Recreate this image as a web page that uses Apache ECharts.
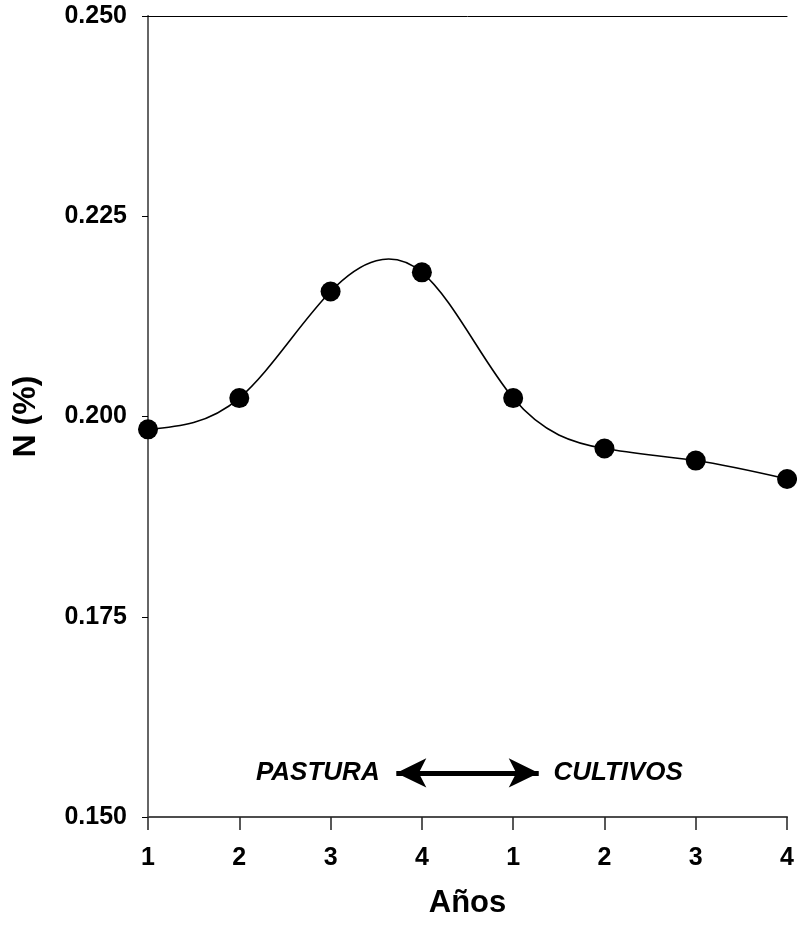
<!DOCTYPE html>
<html>
<head>
<meta charset="utf-8">
<script src="https://cdn.jsdelivr.net/npm/echarts@6/dist/echarts.min.js"></script>
<style>
html,body{margin:0;padding:0;background:#fff;}
#main{width:797px;height:930px;}
</style>
</head>
<body>
<div id="main"></div>
<script>
// ---- data ----
var xLabels = ['1', '2', '3', '4', '1', '2', '3', '4'];
var nValues = [0.1984, 0.2023, 0.2156, 0.2180, 0.2023, 0.1960, 0.1945, 0.1922];
var yTicks = [0.150, 0.175, 0.200, 0.225, 0.250];
var xTitle = 'Años';
var yTitle = 'N (%)';
var leftNote = 'PASTURA';
var rightNote = 'CULTIVOS';

var FONT = '"Liberation Sans", Arial, Helvetica, sans-serif';
var chart = echarts.init(document.getElementById('main'), null, {renderer: 'canvas'});

function splinePath(pts) {
  // natural cubic spline through pixel points (uniform step in x)
  var n = pts.length;
  var y = pts.map(function (p) { return p[1]; });
  var M = new Array(n).fill(0);
  var a = [], b = [], c = [], d = [];
  for (var i = 1; i < n - 1; i++) {
    a.push(1); b.push(4); c.push(1);
    d.push(6 * (y[i + 1] - 2 * y[i] + y[i - 1]));
  }
  var m = d.length;
  for (var k = 1; k < m; k++) {
    var w = a[k] / b[k - 1];
    b[k] -= w * c[k - 1];
    d[k] -= w * d[k - 1];
  }
  var sol = new Array(m);
  sol[m - 1] = d[m - 1] / b[m - 1];
  for (var k2 = m - 2; k2 >= 0; k2--) sol[k2] = (d[k2] - c[k2] * sol[k2 + 1]) / b[k2];
  for (var j = 0; j < m; j++) M[j + 1] = sol[j];
  var path = 'M' + pts[0][0] + ' ' + pts[0][1];
  for (var s = 0; s < n - 1; s++) {
    var d0 = (y[s + 1] - y[s]) - (2 * M[s] + M[s + 1]) / 6;
    var d1 = (y[s + 1] - y[s]) + (M[s] + 2 * M[s + 1]) / 6;
    var dx = pts[s + 1][0] - pts[s][0];
    var c1x = pts[s][0] + dx / 3, c1y = y[s] + d0 / 3;
    var c2x = pts[s + 1][0] - dx / 3, c2y = y[s + 1] - d1 / 3;
    path += ' C' + c1x + ' ' + c1y + ' ' + c2x + ' ' + c2y + ' ' + pts[s + 1][0] + ' ' + y[s + 1];
  }
  return path;
}

var option = {
  backgroundColor: '#fff',
  animation: false,
  grid: {left: 148, right: 8, top: 16, bottom: 113, containLabel: false},
  xAxis: [{
    type: 'value', min: 0, max: xLabels.length - 1, interval: 1,
    name: xTitle, nameLocation: 'middle', nameGap: 71,
    nameTextStyle: {fontFamily: FONT, fontWeight: 'bold', fontSize: 31, color: '#000'},
    axisLine: {show: true, lineStyle: {color: '#4d4d4d', width: 2}},
    axisTick: {show: true, length: 13, lineStyle: {color: '#222', width: 1.5}},
    axisLabel: {
      margin: 29, fontFamily: FONT, fontWeight: 'bold', fontSize: 25, color: '#000',
      formatter: function (v) { return xLabels[Math.round(v)]; }
    },
    splitLine: {show: false}
  }, {
    type: 'value', min: 0, max: xLabels.length - 1, position: 'top',
    axisLine: {show: true, lineStyle: {color: '#000', width: 1}},
    axisTick: {show: false}, axisLabel: {show: false}, splitLine: {show: false}
  }],
  yAxis: [{
    type: 'value', min: yTicks[0], max: yTicks[yTicks.length - 1], interval: 0.025,
    name: yTitle, nameLocation: 'middle', nameGap: 106, nameRotate: 90,
    nameTextStyle: {fontFamily: FONT, fontWeight: 'bold', fontSize: 32, color: '#000'},
    axisLine: {show: true, lineStyle: {color: '#000', width: 1}},
    axisTick: {show: true, length: 6, lineStyle: {color: '#000', width: 1}},
    axisLabel: {
      margin: 21, fontFamily: FONT, fontWeight: 'bold', fontSize: 25, color: '#000',
      formatter: function (v) { return v.toFixed(3); }
    },
    splitLine: {show: false}
  }, {
    type: 'value', min: yTicks[0], max: yTicks[yTicks.length - 1], position: 'right',
    axisLine: {show: true, lineStyle: {color: '#666', width: 2}},
    axisTick: {show: false}, axisLabel: {show: false}, splitLine: {show: false}
  }],
  series: [{
    type: 'custom',
    xAxisIndex: 0, yAxisIndex: 0,
    clip: false, silent: true, z: 2,
    data: [[0, nValues[0]]],
    renderItem: function (params, api) {
      var pts = nValues.map(function (v, i) { return api.coord([i, v]); });
      return {
        type: 'path',
        shape: {pathData: splinePath(pts)},
        style: {fill: 'none', stroke: '#000', lineWidth: 1.6}
      };
    }
  }, {
    type: 'scatter',
    xAxisIndex: 0, yAxisIndex: 0,
    clip: false, z: 3,
    symbol: 'circle', symbolSize: 20,
    itemStyle: {color: '#000', opacity: 1},
    emphasis: {disabled: true},
    data: nValues.map(function (v, i) { return [i, v]; }),
    markLine: {
      silent: true, animation: false,
      symbol: ['arrow', 'arrow'], symbolSize: [22, 30],
      lineStyle: {color: '#000', width: 5, type: 'solid', opacity: 1},
      label: {show: false},
      data: [[{coord: [2.72, 0.1555]}, {coord: [4.28, 0.1555]}]]
    },
    markPoint: {
      silent: true, animation: false,
      symbol: 'circle', symbolSize: 1,
      itemStyle: {color: 'rgba(0,0,0,0)'},
      label: {
        show: true, position: 'inside', color: '#000',
        fontFamily: FONT, fontWeight: 'bold', fontStyle: 'italic', fontSize: 26,
        formatter: function (p) { return p.name; }
      },
      data: [
        {name: leftNote, coord: [1.86, 0.1555]},
        {name: rightNote, coord: [5.15, 0.1555]}
      ]
    }
  }]
};
chart.setOption(option);
</script>
</body>
</html>
